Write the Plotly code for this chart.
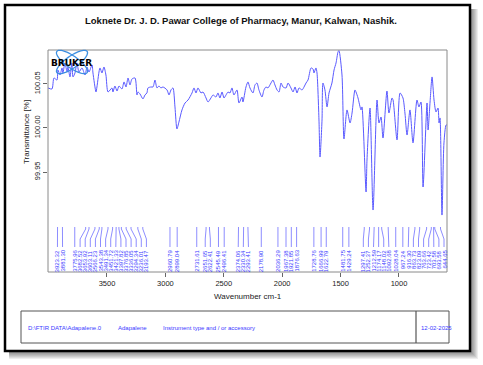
import numpy as np
import plotly.graph_objects as go

# ---------------- data ----------------
wavenumber = [4005, 3971, 3954, 3928, 3920, 3902, 3885, 3877, 3860, 3842, 3834, 3817, 3800, 3791,
              3774, 3757, 3740, 3714, 3688, 3671, 3654, 3628, 3620, 3594, 3586, 3560, 3543, 3526,
              3509, 3491, 3457, 3449, 3432, 3414, 3397, 3372, 3354, 3337, 3320, 3303, 3286, 3260,
              3243, 3235, 3217, 3192, 3175, 3158, 3149, 3123, 3106, 3089, 3072, 3055, 3038, 3021,
              2986, 2969, 2952, 2935, 2918, 2901, 2884, 2858, 2832, 2806, 2772, 2755, 2738, 2721,
              2695, 2678, 2652, 2635, 2610, 2592, 2567, 2550, 2533, 2515, 2498, 2481, 2464, 2447,
              2430, 2413, 2387, 2370, 2344, 2336, 2310, 2293, 2276, 2250, 2233, 2216, 2199, 2173,
              2156, 2139, 2122, 2096, 2079, 2062, 2044, 2027, 2010, 1993, 1967, 1950, 1925, 1907,
              1890, 1873, 1856, 1830, 1813, 1796, 1779, 1753, 1736, 1728, 1711, 1702, 1685, 1676,
              1659, 1651, 1634, 1616, 1599, 1574, 1556, 1539, 1522, 1514, 1488, 1471, 1445, 1419,
              1402, 1377, 1368, 1351, 1325, 1317, 1282, 1274, 1248, 1222, 1188, 1171, 1154, 1137,
              1103, 1086, 1060, 1051, 1017, 991, 966, 949, 931, 906, 880, 846, 829, 812, 794, 760,
              751, 734, 717, 700, 683, 666, 657, 649, 632, 615, 597, 589]
transmittance = [100.0455, 100.0443, 100.0568, 100.0545, 100.0659, 100.0602, 100.0682, 100.0625,
                 100.0739, 100.0636, 100.0693, 100.0580, 100.0739, 100.0580, 100.0625, 100.0739,
                 100.0636, 100.0682, 100.0602, 100.0693, 100.0636, 100.0716, 100.0625, 100.0409,
                 100.0466, 100.0682, 100.0625, 100.0693, 100.0602, 100.0409, 100.0455, 100.0409,
                 100.0477, 100.0420, 100.0477, 100.0443, 100.0523, 100.0466, 100.0568, 100.0489,
                 100.0557, 100.0568, 100.0375, 100.0409, 100.0386, 100.0330, 100.0375, 100.0398,
                 100.0455, 100.0466, 100.0466, 100.0545, 100.0455, 100.0477, 100.0455, 100.0466,
                 100.0432, 100.0375, 100.0432, 100.0455, 100.0239, 99.9989, 100.0068, 100.0205,
                 100.0284, 100.0318, 100.0398, 100.0455, 100.0398, 100.0455, 100.0398, 100.0409,
                 100.0341, 100.0295, 100.0341, 100.0375, 100.0352, 100.0398, 100.0341, 100.0409,
                 100.0341, 100.0375, 100.0409, 100.0398, 100.0455, 100.0375, 100.0432, 100.0284,
                 100.0352, 100.0295, 100.0466, 100.0523, 100.0455, 100.0398, 100.0489, 100.0511,
                 100.0432, 100.0352, 100.0432, 100.0466, 100.0455, 100.0511, 100.0545, 100.0489,
                 100.0432, 100.0409, 100.0511, 100.0466, 100.0455, 100.0511, 100.0455, 100.0409,
                 100.0466, 100.0398, 100.0455, 100.0432, 100.0466, 100.0511, 100.0545, 100.0682,
                 100.0670, 100.0625, 100.0682, 100.0625, 100.0091, 99.9670, 100.0091, 100.0511,
                 100.0432, 100.0239, 100.0398, 100.0511, 100.0659, 100.0739, 100.0864, 100.0880,
                 100.0602, 99.9875, 100.0205, 100.0057, 100.0170, 100.0432, 100.0409, 100.0341,
                 100.0205, 100.0239, 99.9273, 99.9636, 100.0227, 99.9068, 100.0318, 100.0057,
                 100.0125, 99.9886, 100.0420, 100.0170, 100.0341, 100.0318, 99.9864, 100.0398,
                 100.0341, 100.0170, 99.9920, 100.0205, 99.9830, 100.0318, 100.0239, 100.0295,
                 99.9330, 100.0284, 99.9977, 100.0295, 100.0580, 100.0318, 100.0182, 100.0227,
                 100.0057, 100.0114, 99.9011, 99.9830, 100.0034, 100.0034]

peak_positions = [3923.32, 3881.30, 3775.96, 3682.52, 3653.92, 3603.11, 3566.23, 3543.38, 3491.34,
                  3451.72, 3421.33, 3397.82, 3376.85, 3336.05, 3294.34, 3236.01, 3193.47, 2960.79,
                  2899.04, 2731.61, 2651.65, 2622.41, 2545.49, 2496.41, 2374.06, 2330.34, 2293.41,
                  2178.90, 2036.29, 1967.38, 1921.85, 1876.63, 1728.76, 1666.99, 1622.79, 1481.75,
                  1429.24, 1297.41, 1252.37, 1212.59, 1174.17, 1148.02, 1092.68, 1028.04, 967.24,
                  916.30, 863.73, 823.09, 763.66, 723.42, 703.58, 693.58, 644.65]

x_ticks = [3500, 3000, 2500, 2000, 1500, 1000]
y_ticks = [100.05, 100.00, 99.95]
y_tick_labels = ["100.05", "100.00", "99.95"]

title_text = "Loknete Dr. J. D. Pawar College of Pharmacy, Manur, Kalwan, Nashik."
x_title = "Wavenumber cm-1"
y_title = "Transmittance [%]"
info_texts = ["D:\\FTIR DATA\\Adapalene.0", "Adapalene", "Instrument type and / or accessory"]
date_text = "12-02-2025"
logo_text = "BRUKER"

# ---------------- geometry ----------------
W, H = 483, 365
L, R, T, B = 48, 447, 50, 272
X_RANGE = [4005, 589]
Y_RANGE = [99.8364, 100.0886]
BLUE = "#5a5aff"
TXTBLUE = "#3a3aff"
FONT = "Liberation Sans, Arial, sans-serif"


def pxp(x):
    return (x - L) / (R - L)


def pyp(y):
    return (B - y) / (B - T)


def w_to_px(w):
    return L + (X_RANGE[0] - w) / (X_RANGE[0] - X_RANGE[1]) * (R - L)


def px_to_w(p):
    return X_RANGE[0] - (p - L) / (R - L) * (X_RANGE[0] - X_RANGE[1])


# spread label positions so they don't overlap
gap = 5.1
peaks_sorted = sorted(peak_positions, reverse=True)
pos = [w_to_px(w) for w in peaks_sorted]
for _ in range(2000):
    moved = False
    for i in range(len(pos) - 1):
        d = pos[i + 1] - pos[i]
        if d < gap - 1e-6:
            s = (gap - d) / 2
            pos[i] -= s
            pos[i + 1] += s
            moved = True
    pos = [min(max(p, L + 3), R - 3) for p in pos]
    if not moved:
        break
label_w = [px_to_w(p) for p in pos]

fig = go.Figure()

fig.add_trace(go.Scatter(x=wavenumber, y=transmittance, mode="lines",
                         line=dict(color=BLUE, width=1, shape="spline", smoothing=0.7),
                         hoverinfo="skip", showlegend=False))

# connectors
cx, cy = [], []
for w, lw in zip(peaks_sorted, label_w):
    cx += [w, w, lw, lw, None]
    cy += [pyp(227), pyp(229), pyp(239), pyp(247), None]
fig.add_trace(go.Scatter(x=cx, y=cy, mode="lines", yaxis="y2",
                         line=dict(color="#7070ff", width=0.8), hoverinfo="skip", showlegend=False))

annotations = []
for w, lw in zip(peaks_sorted, label_w):
    annotations.append(dict(x=lw, xref="x", y=pyp(248), yref="paper", text="%.2f" % w,
                            textangle=-90, showarrow=False, xanchor="center", yanchor="top",
                            font=dict(family=FONT, size=6, color=TXTBLUE)))

annotations.append(dict(x=0.5, xref="paper", y=pyp(20), yref="paper", text="<b>%s</b>" % title_text,
                        showarrow=False, xanchor="center", yanchor="middle", xshift=(241 - 247.5),
                        font=dict(family=FONT, size=9.5, color="#111")))
annotations.append(dict(x=0.5, xref="paper", y=pyp(296), yref="paper", text=x_title,
                        showarrow=False, xanchor="center", yanchor="middle",
                        font=dict(family=FONT, size=8, color="#222")))
annotations.append(dict(x=pxp(26), xref="paper", y=pyp(132), yref="paper", text=y_title,
                        textangle=-90, showarrow=False, xanchor="center", yanchor="middle",
                        font=dict(family=FONT, size=8, color="#222")))
info_x = [26, 116, 161]
for t, xx in zip(info_texts, info_x):
    annotations.append(dict(x=pxp(xx), xref="paper", y=pyp(328), yref="paper", text=t,
                            showarrow=False, xanchor="left", yanchor="middle",
                            font=dict(family=FONT, size=6, color=TXTBLUE)))
annotations.append(dict(x=pxp(419), xref="paper", y=pyp(328), yref="paper", text=date_text,
                        showarrow=False, xanchor="left", yanchor="middle",
                        font=dict(family=FONT, size=6, color=TXTBLUE)))
annotations.append(dict(x=pxp(71), xref="paper", y=pyp(63), yref="paper", text="<b>%s</b>" % logo_text,
                        showarrow=False, xanchor="center", yanchor="middle",
                        font=dict(family="DejaVu Sans", size=9, color="#000")))

shapes = []
# shadow
for s in range(8, 0, -1):
    shapes.append(dict(type="rect", xref="paper", yref="paper", layer="below",
                       x0=pxp(9), y0=pyp(9), x1=pxp(470 + s), y1=pyp(351 + s),
                       fillcolor="rgba(0,0,0,0.07)", line=dict(width=0)))
# frame
shapes.append(dict(type="rect", xref="paper", yref="paper", layer="below",
                   x0=pxp(5), y0=pyp(5), x1=pxp(470), y1=pyp(351),
                   fillcolor="white", line=dict(color="black", width=2.5)))
# plot box
shapes.append(dict(type="rect", xref="paper", yref="paper", x0=0, y0=0, x1=1, y1=1,
                   line=dict(color="#8a8a8a", width=1)))
# info box
shapes.append(dict(type="rect", xref="paper", yref="paper", x0=pxp(21), y0=pyp(311),
                   x1=pxp(449), y1=pyp(343), line=dict(color="#555", width=1)))
shapes.append(dict(type="line", xref="paper", yref="paper", x0=pxp(416), y0=pyp(311),
                   x1=pxp(416), y1=pyp(343), line=dict(color="#555", width=1.2)))
# bruker logo ellipses
tt = np.linspace(0, 2 * np.pi, 60)
for ang in (35, -35):
    a, b = 18.5, 6.0
    th = np.deg2rad(ang)
    ex = 72 + a * np.cos(tt) * np.cos(th) - b * np.sin(tt) * np.sin(th)
    ey = 62 + a * np.cos(tt) * np.sin(th) + b * np.sin(tt) * np.cos(th)
    path = "M " + " L ".join("%.4f,%.4f" % (pxp(u), pyp(v)) for u, v in zip(ex, ey)) + " Z"
    shapes.append(dict(type="path", xref="paper", yref="paper", path=path,
                       line=dict(color="#3d8fe0", width=1.3)))

fig.update_layout(
    width=W, height=H,
    margin=dict(l=L, r=W - R, t=T, b=H - B, pad=0),
    paper_bgcolor="white", plot_bgcolor="rgba(0,0,0,0)",
    font=dict(family=FONT, size=8, color="#222"),
    xaxis=dict(range=X_RANGE, tickvals=x_ticks, ticks="outside", ticklen=4, tickcolor="#666",
               showgrid=False, zeroline=False, showline=False,
               tickfont=dict(family=FONT, size=7.5, color="#222")),
    yaxis=dict(range=Y_RANGE, tickvals=y_ticks, ticktext=y_tick_labels, ticks="outside", ticklen=4,
               tickcolor="#666", tickangle=-90, showgrid=False, zeroline=False, showline=False,
               tickfont=dict(family=FONT, size=7.5, color="#222")),
    yaxis2=dict(range=[0, 1], overlaying="y", visible=False),
    annotations=annotations,
    shapes=shapes,
    showlegend=False,
)

fig.write_html("out.html", config={"displayModeBar": False},
               post_script="document.body.style.margin='0';document.body.style.overflow='hidden';")
